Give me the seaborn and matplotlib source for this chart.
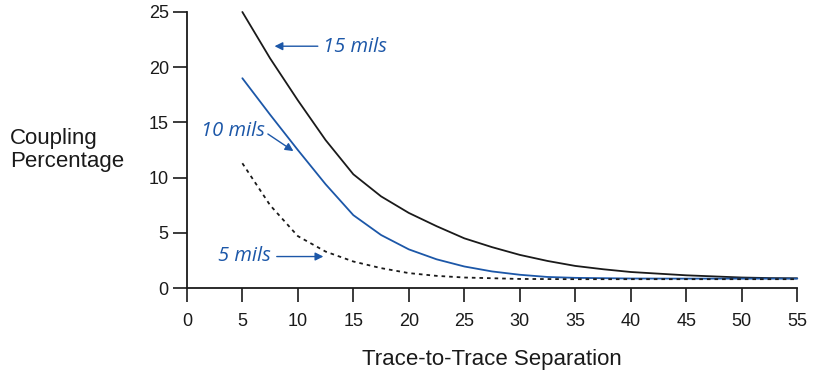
import pandas as pd
import matplotlib.pyplot as plt
import seaborn as sns

# separation (mils) and coupling (%)
sep_15 = [5, 7.5, 10, 12.5, 15, 17.5, 20, 22.5, 25, 27.5, 30, 32.5, 35, 37.5, 40, 42.5, 45, 47.5, 50, 52.5, 55]
cpl_15 = [25.0, 20.8, 17.0, 13.4, 10.3, 8.3, 6.8, 5.6, 4.5, 3.7, 3.0, 2.45, 2.0, 1.7, 1.45, 1.3, 1.15, 1.05, 0.95, 0.9, 0.88]

sep_10 = [5, 7.5, 10, 12.5, 15, 17.5, 20, 22.5, 25, 27.5, 30, 32.5, 35, 40, 45, 50, 55]
cpl_10 = [19.0, 15.7, 12.5, 9.4, 6.6, 4.8, 3.5, 2.6, 1.95, 1.5, 1.2, 1.0, 0.92, 0.86, 0.85, 0.85, 0.85]

sep_5 = [5, 7.5, 10, 12.5, 15, 17.5, 20, 22.5, 25, 30, 35, 40, 45, 50, 55]
cpl_5 = [11.3, 7.5, 4.7, 3.3, 2.4, 1.8, 1.35, 1.1, 0.95, 0.82, 0.8, 0.8, 0.8, 0.8, 0.8]

x_ticks = list(range(0, 60, 5))
y_ticks = list(range(0, 30, 5))

blue = '#1c57a8'

sns.set_style('ticks')
plt.rcParams['font.family'] = ['Liberation Sans', 'DejaVu Sans']

fig = plt.figure(figsize=(8.16, 3.71), dpi=100)
ax = fig.add_axes([0.229, 0.2237, 0.748, 0.744])

sns.lineplot(x=sep_15, y=cpl_15, ax=ax, color='#1a1a1a', lw=1.3)
sns.lineplot(x=sep_10, y=cpl_10, ax=ax, color=blue, lw=1.3)
sns.lineplot(x=sep_5, y=cpl_5, ax=ax, color='#1a1a1a', lw=1.3, linestyle=(0, (2, 2.2)))

ax.set_xlim(0, 55)
ax.set_ylim(0, 25)
ax.set_xticks(x_ticks)
ax.set_yticks(y_ticks)
for line in ax.lines:
    line.set_clip_on(False)

sns.despine(ax=ax)
for s in ['left', 'bottom']:
    ax.spines[s].set_color('#1a1a1a')
    ax.spines[s].set_linewidth(1.3)
ax.tick_params(axis='both', direction='out', length=10, width=1.2, color='#1a1a1a',
               labelsize=13, labelcolor='#1a1a1a', bottom=True, left=True)
ax.tick_params(axis='x', pad=8)
ax.tick_params(axis='y', pad=3)

ax.set_xlabel('Trace-to-Trace Separation', fontsize=16, color='#1a1a1a', labelpad=14)
ax.set_ylabel('')
fig.text(0.012, 0.595, 'Coupling\nPercentage', fontsize=16, color='#1a1a1a',
         ha='left', va='center', linespacing=1.15)

lab = dict(fontsize=14.5, color=blue, style='italic', family=['Open Sans', 'DejaVu Sans'], va='center')
arr = dict(arrowstyle='-|>', color=blue, lw=1.0, mutation_scale=12, shrinkA=0, shrinkB=0)
ax.text(12.3, 21.8, '15 mils', ha='left', **lab)
ax.annotate('', xy=(7.9, 21.9), xytext=(11.8, 21.9), arrowprops=arr)
ax.text(7.0, 14.2, '10 mils', ha='right', **lab)
ax.annotate('', xy=(9.6, 12.4), xytext=(7.3, 13.95), arrowprops=arr)
ax.text(7.6, 2.9, '5 mils', ha='right', **lab)
ax.annotate('', xy=(12.3, 2.85), xytext=(8.1, 2.85), arrowprops=arr)

plt.savefig('out.png', dpi=100)
plt.close()
